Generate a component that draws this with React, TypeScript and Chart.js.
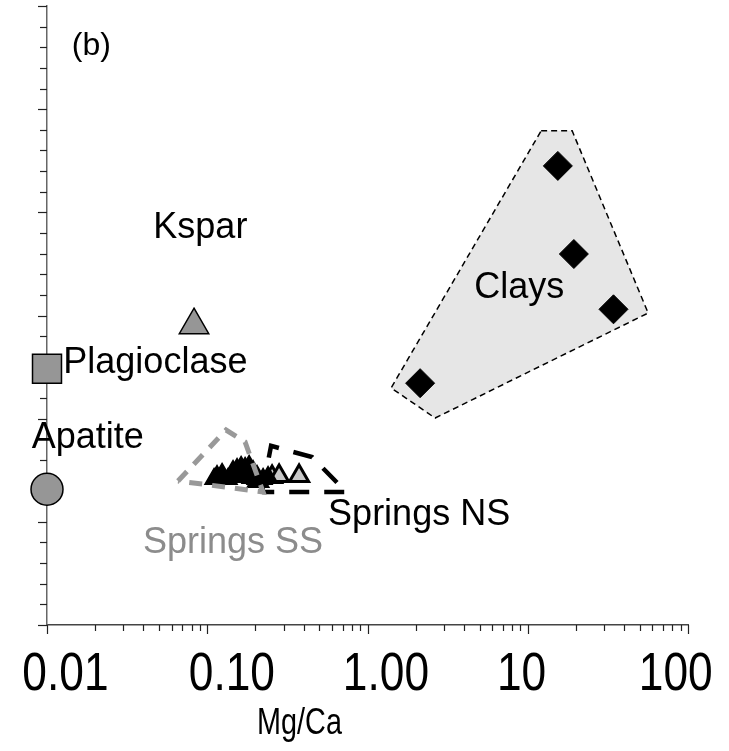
import React, { useEffect, useRef } from 'react';
import { Chart, registerables } from 'chart.js';

Chart.register(...registerables);

const SANS = "'Liberation Sans', Arial, Helvetica, sans-serif";

// ---- axes ----
const mgCaDecades = [0.01, 0.1, 1, 10, 100];
const mgCaDecadeLabels = ['   0.01', '    0.10', '   1.00', '10 ', '100  '];
const yMin = 0;
const yMax = 30;

// ---- end-member minerals ----
const apatiteMgCa = [0.01];
const apatiteY = [6.58];
const plagioclaseMgCa = [0.01];
const plagioclaseY = [12.42];
const ksparMgCa = [0.0827];
const ksparY = [14.53];
const claysMgCa = [15.41, 19.4, 34.28, 2.13];
const claysY = [22.25, 17.98, 15.3, 11.72];

// ---- spring waters ----
const springsSSMgCa = [
  0.1151, 0.1237, 0.1348, 0.1449, 0.1535, 0.1626, 0.1722, 0.1824, 0.1932, 0.2046, 0.223, 0.2396,
  0.1103, 0.1202, 0.1513, 0.1697, 0.1877, 0.2017,
];
const springsSSY = [
  7.22, 7.32, 7.08, 7.46, 7.56, 7.66, 7.61, 7.71, 7.46, 7.22, 7.08, 7.17,
  7.08, 7.08, 7.17, 7.22, 7.13, 7.08,
];
const springsNSMgCa = [0.2075, 0.2538, 0.2807, 0.3741];
const springsNSY = [6.98, 7.17, 7.22, 7.22];

// ---- field outlines (closed polygons) ----
const claysFieldMgCa = [12.12, 18.93, 56.4, 2.642, 1.404, 12.12];
const claysFieldY = [23.95, 23.95, 15.12, 10.03, 11.49, 23.95];
const springsSSFieldMgCa = [0.0657, 0.1311, 0.1722, 0.223, 0.0657];
const springsSSFieldY = [6.98, 9.45, 8.87, 6.45, 6.98];
const springsNSFieldMgCa = [0.2198, 0.2502, 0.451, 0.7355, 0.2198];
const springsNSFieldY = [6.45, 8.68, 8.14, 6.45, 6.45];

// ---- annotations (anchored at their left baseline) ----
const noteTexts = ['(b)', 'Kspar', 'Plagioclase', 'Apatite', 'Clays', 'Springs NS', 'Springs SS'];
const noteMgCa = [0.01427, 0.04608, 0.01264, 0.008025, 4.628, 0.5677, 0.03975];
const noteY = [27.63, 18.74, 12.2, 8.565, 15.85, 4.847, 3.49];

const axisTitle = 'Mg/Ca';

const pts = (xs: number[], ys: number[]) => xs.map((x, i) => ({ x, y: ys[i] }));

const GREY = '#969696';
const LIGHT = '#c8c8c8';

// condensed text: regular face squeezed horizontally
function narrowText(ctx: CanvasRenderingContext2D, text: string, x: number, y: number, size: number, squeeze: number) {
  ctx.save();
  ctx.translate(x, y);
  ctx.scale(squeeze, 1);
  ctx.font = `${size}px ${SANS}`;
  ctx.textAlign = 'center';
  ctx.textBaseline = 'alphabetic';
  ctx.fillStyle = '#000';
  ctx.fillText(text, 0, 0);
  ctx.restore();
}

const decorations = {
  id: 'decorations',
  beforeDatasetsDraw(chart: any) {
    const { ctx, chartArea } = chart;
    const xs = chart.scales.x;
    const ys = chart.scales.y;
    ctx.save();
    ctx.strokeStyle = '#222';
    ctx.lineWidth = 1.2;

    // y ticks: one per unit, longer every five, pointing outward
    for (let v = yMin; v <= yMax; v++) {
      const py = Math.round(ys.getPixelForValue(v)) + 0.5;
      const len = v % 5 === 0 ? 9 : 7;
      ctx.beginPath();
      ctx.moveTo(chartArea.left - len, py);
      ctx.lineTo(chartArea.left, py);
      ctx.stroke();
    }

    // x ticks: decades and 2..9 minors, pointing down
    for (let d = 0; d < mgCaDecades.length; d++) {
      const dec = mgCaDecades[d];
      const marks = d === mgCaDecades.length - 1 ? [1] : [1, 2, 3, 4, 5, 6, 7, 8, 9];
      for (const k of marks) {
        const px = Math.round(xs.getPixelForValue(dec * k)) + 0.5;
        const len = k === 1 ? 9 : 6;
        ctx.beginPath();
        ctx.moveTo(px, chartArea.bottom);
        ctx.lineTo(px, chartArea.bottom + len);
        ctx.stroke();
      }
    }
    ctx.restore();
  },
  afterDatasetsDraw(chart: any) {
    const { ctx, chartArea } = chart;
    const xs = chart.scales.x;
    const ys = chart.scales.y;
    ctx.save();

    // field and mineral names
    ctx.textBaseline = 'alphabetic';
    ctx.textAlign = 'left';
    noteTexts.forEach((t, i) => {
      const size = t === '(b)' ? 32 : 36;
      ctx.font = `${size}px ${SANS}`;
      ctx.fillStyle = t === 'Springs SS' ? '#8c8c8c' : '#000';
      ctx.fillText(t, xs.getPixelForValue(noteMgCa[i]), ys.getPixelForValue(noteY[i]));
    });

    // decade labels under the Mg/Ca axis
    xs.ticks.forEach((t: any, i: number) => {
      narrowText(ctx, mgCaDecadeLabels[i], xs.getPixelForValue(t.value), chartArea.bottom + 65, 54, 0.82);
    });

    // axis title sits left of the plot centre
    narrowText(ctx, axisTitle, (chartArea.left + chartArea.right) / 2 - 68, chartArea.bottom + 109, 36, 0.8);
    ctx.restore();
  },
};

export default function App() {
  const ref = useRef<HTMLCanvasElement>(null);

  useEffect(() => {
    const chart = new Chart(ref.current as HTMLCanvasElement, {
      type: 'scatter',
      data: {
        datasets: [
          {
            label: 'Clays field',
            data: pts(claysFieldMgCa, claysFieldY),
            showLine: true,
            fill: 'shape',
            backgroundColor: '#e6e6e6',
            borderColor: '#000',
            borderWidth: 1.5,
            borderDash: [6, 4],
            pointRadius: 0,
            tension: 0,
            order: 3,
          },
          {
            label: 'Springs SS',
            data: pts(springsSSMgCa, springsSSY),
            pointStyle: 'triangle',
            pointRadius: 10.5,
            backgroundColor: '#000',
            borderColor: '#000',
            borderWidth: 1.5,
            order: 2,
          },
          {
            label: 'Springs NS',
            data: pts(springsNSMgCa, springsNSY),
            pointStyle: 'triangle',
            pointRadius: 11,
            backgroundColor: LIGHT,
            borderColor: '#000',
            borderWidth: 3,
            order: 2,
          },
          {
            label: 'Clays',
            data: pts(claysMgCa, claysY),
            pointStyle: 'rectRot',
            pointRadius: 14.5,
            backgroundColor: '#000',
            borderColor: '#000',
            borderWidth: 1,
            order: 1,
          },
          {
            label: 'Kspar',
            data: pts(ksparMgCa, ksparY),
            pointStyle: 'triangle',
            pointRadius: 17,
            backgroundColor: GREY,
            borderColor: '#000',
            borderWidth: 1.5,
            order: 1,
          },
          {
            label: 'Plagioclase',
            data: pts(plagioclaseMgCa, plagioclaseY),
            pointStyle: 'rect',
            pointRadius: 20.5,
            backgroundColor: GREY,
            borderColor: '#000',
            borderWidth: 1.5,
            order: 1,
          },
          {
            label: 'Apatite',
            data: pts(apatiteMgCa, apatiteY),
            pointStyle: 'circle',
            pointRadius: 16,
            backgroundColor: GREY,
            borderColor: '#000',
            borderWidth: 1.5,
            order: 1,
          },
          {
            label: 'Springs SS field',
            data: pts(springsSSFieldMgCa, springsSSFieldY),
            showLine: true,
            fill: false,
            borderColor: '#999999',
            borderWidth: 5,
            borderDash: [13, 10],
            pointRadius: 0,
            tension: 0,
            order: 0,
          },
          {
            label: 'Springs NS field',
            data: pts(springsNSFieldMgCa, springsNSFieldY),
            showLine: true,
            fill: false,
            borderColor: '#000',
            borderWidth: 4.5,
            borderDash: [20, 15],
            pointRadius: 0,
            tension: 0,
            order: 0,
          },
        ].map((d: any) => ({ ...d, clip: false })),
      },
      options: {
        responsive: false,
        animation: false,
        devicePixelRatio: 1,
        events: [],
        layout: { autoPadding: false, padding: { top: 6, right: 41, left: 0, bottom: 0 } },
        plugins: {
          legend: { display: false },
          tooltip: { enabled: false },
          title: { display: false },
        },
        scales: {
          x: {
            type: 'logarithmic',
            min: mgCaDecades[0],
            max: mgCaDecades[mgCaDecades.length - 1],
            afterBuildTicks: (s: any) => {
              s.ticks = mgCaDecades.map((v) => ({ value: v }));
            },
            ticks: { display: false },
            grid: { display: false },
            border: { display: true, color: '#444', width: 1.5 },
            afterFit: (s: any) => {
              s.height = 126;
              s.paddingLeft = 0;
              s.paddingRight = 0;
            },
          },
          y: {
            type: 'linear',
            min: yMin,
            max: yMax,
            ticks: { display: false },
            grid: { display: false },
            border: { display: true, color: '#666', width: 1.5 },
            afterFit: (s: any) => {
              s.width = 47;
              s.paddingTop = 0;
              s.paddingBottom = 0;
            },
          },
        },
      },
      plugins: [decorations],
    } as any);
    return () => chart.destroy();
  }, []);

  return (
    <div style={{ position: 'absolute', left: 0, top: 0, width: 729, height: 751, background: '#fff' }}>
      <canvas ref={ref} width={729} height={751} style={{ display: 'block' }} />
    </div>
  );
}
